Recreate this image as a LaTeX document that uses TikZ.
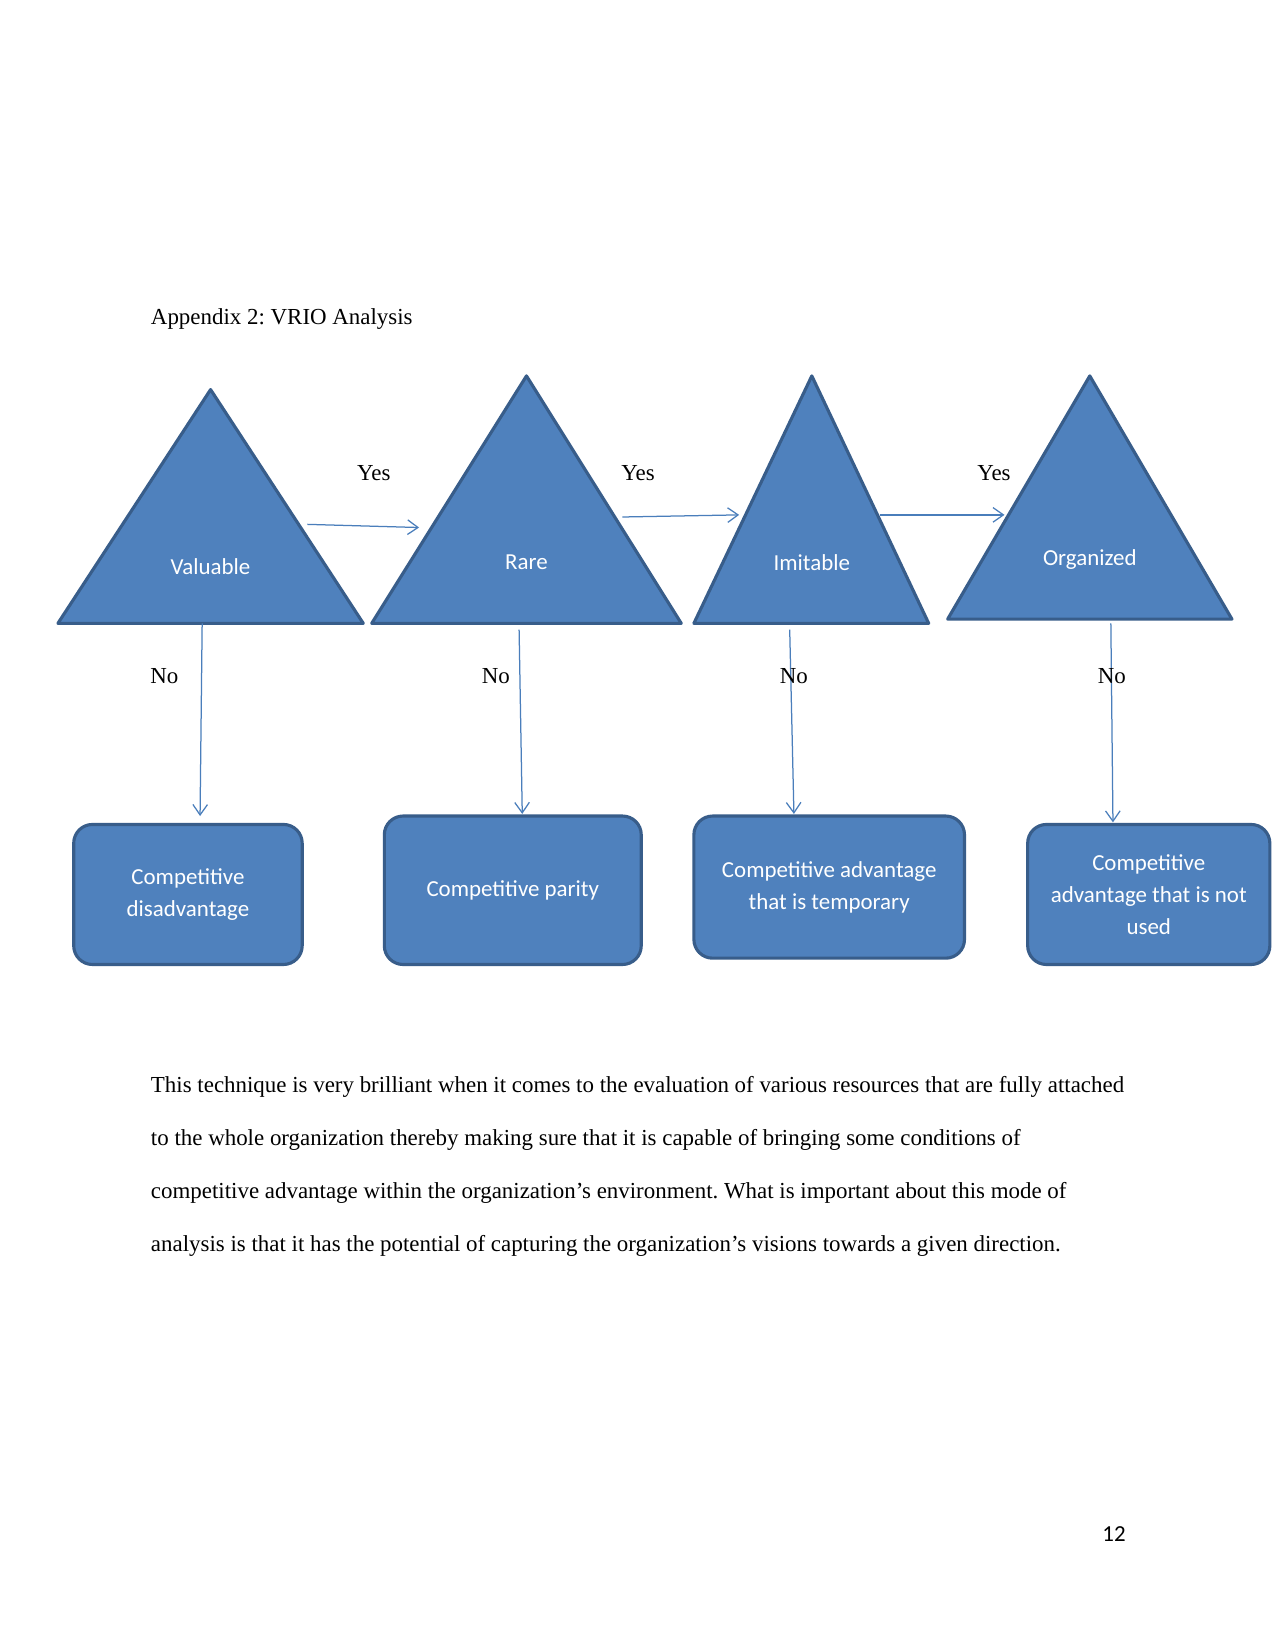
\documentclass[tikz,border=0pt]{standalone}
\usepackage{fontspec}
\setmainfont{Liberation Serif}
\newfontfamily\calibri{Carlito}
\usetikzlibrary{arrows.meta}
\definecolor{vriofill}{HTML}{4F81BD}
\definecolor{vrioedge}{HTML}{385D8A}
\definecolor{vrioline}{HTML}{4A7EBB}
\frenchspacing

\begin{document}
\begin{tikzpicture}[
  x=0.50537pt, y=-0.50537pt,
  tri/.style={draw=vrioedge, fill=vriofill, line width=1.5pt, line join=round},
  trilabel/.style={text=white, font=\calibri\fontsize{11}{13}\selectfont},
  outcome/.style={draw=vrioedge, fill=vriofill, line width=1.5pt, rounded corners=9pt,
    align=center, text=white, inner sep=2pt,
    font=\calibri\fontsize{11}{15.3}\selectfont},
  answer/.style={font=\fontsize{11}{13}\selectfont},
  flow/.style={draw=vrioline, line width=0.6pt, -{Straight Barb[length=5pt,width=7pt]}},
  para/.style={anchor=base west, inner sep=0pt, font=\fontsize{11}{13}\selectfont}
]
\useasboundingbox[fill=white] (0,0) rectangle (1211,1568);

% title
\node[para] (title) at (143,308) {Appendix 2: VRIO Analysis};

% the four questions
\draw[tri] (200,370) -- (345,592) -- (55,592) -- cycle;
\node[trilabel] (val) at (200,538) {Valuable};
\draw[tri] (500,357) -- (647,592) -- (353,592) -- cycle;
\node[trilabel] (rare) at (500,534) {Rare};
\draw[tri] (771,357) -- (882,592) -- (659,592) -- cycle;
\node[trilabel] (imit) at (771,534) {Imitable};
\draw[tri] (1035,357) -- (1170,588) -- (900,588) -- cycle;
\node[trilabel] (org) at (1035,531) {Organized};

% outcomes
\node[outcome, minimum width=217*0.50537pt, minimum height=133*0.50537pt]
  (disadv) at (178.5,849.5) {Competitive\\disadvantage};
\node[outcome, minimum width=244*0.50537pt, minimum height=141*0.50537pt]
  (parity) at (487,845.5) {Competitive parity};
\node[outcome, minimum width=257*0.50537pt, minimum height=135*0.50537pt]
  (temp) at (787.5,842.5) {Competitive advantage\\that is temporary};
\node[outcome, minimum width=230*0.50537pt, minimum height=133*0.50537pt]
  (unused) at (1091,849.5) {Competitive\\advantage that is not\\used};

% arrow ends
\coordinate (val-yes) at (292,498);
\coordinate (rare-in) at (398,501);
\coordinate (rare-yes) at (591,491);
\coordinate (imit-in) at (702,489);
\coordinate (imit-yes) at (836,489);
\coordinate (org-in) at (954,489);
\coordinate (val-no) at (192,592);
\coordinate (rare-no) at (493,598);
\coordinate (imit-no) at (750,598);
\coordinate (org-no) at (1055,592);

% yes
\draw[flow] (val-yes) -- (rare-in);
\draw[flow] (rare-yes) -- (imit-in);
\draw[flow] (imit-yes) -- (org-in);
\node[answer] (yes1) at (355,449) {Yes};
\node[answer] (yes2) at (606,449) {Yes};
\node[answer] (yes3) at (944,449) {Yes};

% no
\draw[flow] (val-no) -- (190,775);
\draw[flow] (rare-no) -- (496,773);
\draw[flow] (imit-no) -- (754,773);
\draw[flow] (org-no) -- (1057,781);
\node[answer] (no1) at (156,642) {No};
\node[answer] (no2) at (471,642) {No};
\node[answer] (no3) at (754,642) {No};
\node[answer] (no4) at (1056,642) {No};

% text below
\node[para] (l1) at (143,1038) {This technique is very brilliant when it comes to the evaluation of various resources that are fully attached};
\node[para] (l2) at (143,1088) {to the whole organization thereby making sure that it is capable of bringing some conditions of};
\node[para] (l3) at (143,1138) {competitive advantage within the organization’s environment. What is important about this mode of};
\node[para] (l4) at (143,1189) {analysis is that it has the potential of capturing the organization’s visions towards a given direction.};

\node[font=\calibri\fontsize{11}{13}\selectfont] (page) at (1058,1457) {12};
\end{tikzpicture}
\end{document}
